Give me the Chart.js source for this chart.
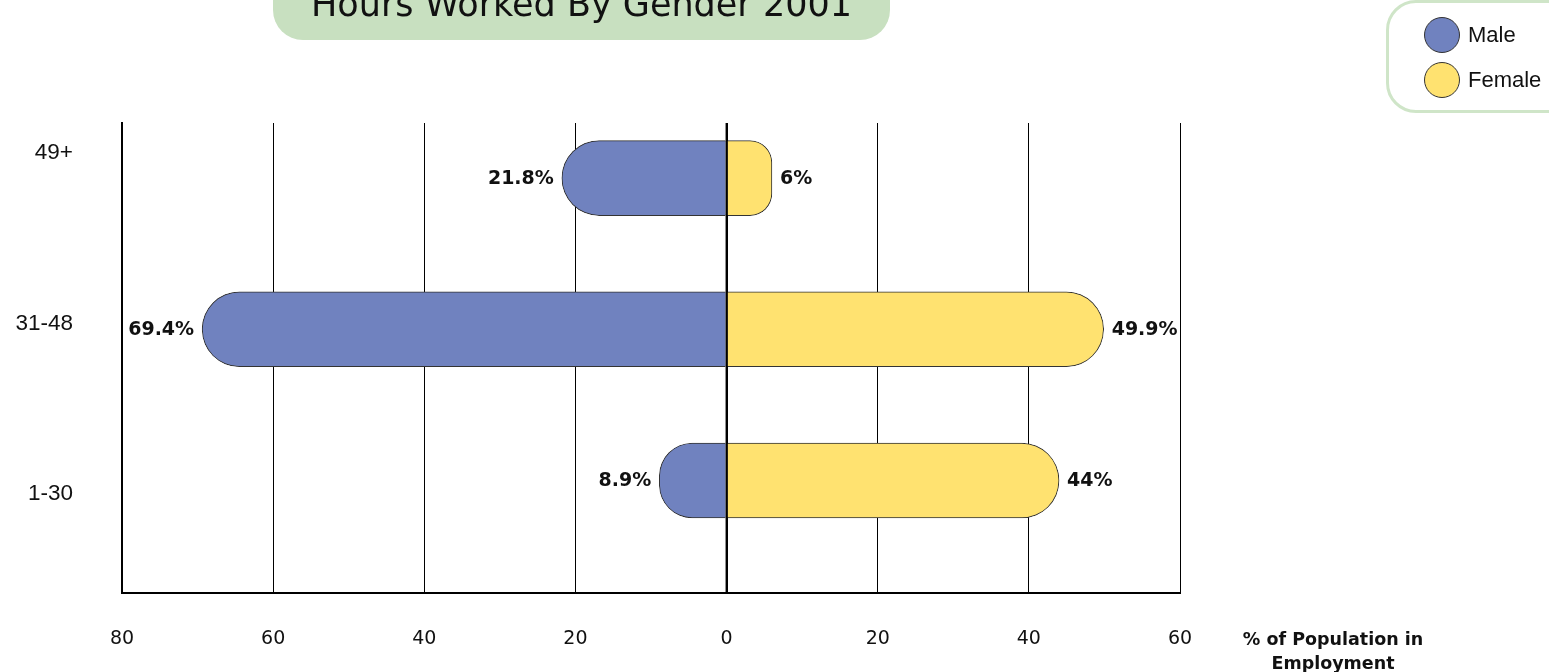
<!DOCTYPE html>
<html>
<head>
<meta charset="utf-8">
<script src="https://cdn.jsdelivr.net/npm/chart.js@4.4.1/dist/chart.umd.min.js"></script>
<style>
  html, body { margin: 0; padding: 0; background: #fff; }
  body { width: 1549px; height: 672px; position: relative; overflow: hidden; font-family: "DejaVu Sans", sans-serif; }
  #chart { position: absolute; left: 0; top: 0; }
  .title-box { position: absolute; left: 273px; top: -44px; width: 617px; height: 84px; background: #C8E0C0; border-radius: 30px; }
  .title-text { position: absolute; left: 273px; top: -13px; width: 617px; text-align: center; font-size: 35px; line-height: 35px; color: #111; }
  .legend { position: absolute; left: 1386px; top: 0; width: 220px; height: 113px; box-sizing: border-box; border: 3px solid #CFE5C8; border-radius: 30px; }
  .legend-item { position: absolute; left: 1424px; height: 36px; display: flex; align-items: center; font-family: "Liberation Sans", Arial, sans-serif; font-size: 22px; color: #111; }
  .legend-item span.dot { width: 36px; height: 36px; border-radius: 50%; border: 1px solid #333; box-sizing: border-box; margin-right: 8px; }
  .axis-title { position: absolute; left: 1233px; top: 627px; width: 200px; text-align: center; font-weight: bold; font-size: 17.5px; line-height: 24px; color: #111; }
</style>
</head>
<body>
<canvas id="chart" width="1549" height="672"></canvas>
<div class="title-box"></div>
<div class="title-text">Hours Worked By Gender 2001</div>
<div class="legend"></div>
<div class="legend-item" style="top:17px"><span class="dot" style="background:#7082BF"></span>Male</div>
<div class="legend-item" style="top:62px"><span class="dot" style="background:#FFE270"></span>Female</div>
<div class="axis-title">% of Population in<br>Employment</div>
<script>
// hours bands, top to bottom
const categories = ['49+', '31-48', '1-30'];
const maleValues = [21.8, 69.4, 8.9];
const femaleValues = [6, 49.9, 44];
const xMin = -80;
const xMax = 60;
const xStep = 20;

const maleColor = '#7082BF';
const femaleColor = '#FFE270';

// value labels at the bar ends, plus the zero line over the bars
const barLabels = {
  id: 'barLabels',
  afterDatasetsDraw(chart) {
    const { ctx, chartArea } = chart;
    const x0 = chart.scales.x.getPixelForValue(0);
    ctx.save();
    ctx.strokeStyle = '#000';
    ctx.lineWidth = 2;
    ctx.beginPath();
    ctx.moveTo(x0, chartArea.top);
    ctx.lineTo(x0, chartArea.bottom);
    ctx.stroke();

    ctx.font = 'bold 19px "DejaVu Sans"';
    ctx.textBaseline = 'middle';
    ctx.textAlign = 'left';
    chart.data.datasets.forEach((ds, di) => {
      const vals = di === 0 ? maleValues : femaleValues;
      chart.getDatasetMeta(di).data.forEach((bar, i) => {
        const text = vals[i] + '%';
        const w = ctx.measureText(text).width;
        const tx = di === 0 ? bar.x - 8 - w : bar.x + 8;
        ctx.fillStyle = '#fff';
        ctx.fillRect(tx - 2, bar.y - 16, w + 4, 32);
        ctx.fillStyle = '#111';
        ctx.fillText(text, tx, bar.y + 1);
      });
    });
    ctx.restore();
  }
};

new Chart(document.getElementById('chart').getContext('2d'), {
  type: 'bar',
  data: {
    datasets: [
      {
        label: 'Male',
        data: maleValues.map((v, i) => ({ x: -v, y: i })),
        backgroundColor: maleColor,
        borderColor: '#333',
        borderWidth: 1,
        borderRadius: 40,
        barThickness: 75,
      },
      {
        label: 'Female',
        data: femaleValues.map((v, i) => ({ x: v, y: i })),
        backgroundColor: femaleColor,
        borderColor: '#333',
        borderWidth: 1,
        borderRadius: 40,
        barThickness: 75,
      }
    ]
  },
  options: {
    indexAxis: 'y',
    responsive: false,
    animation: false,
    layout: { padding: { top: 123, right: 369, left: 0, bottom: 0 } },
    plugins: { legend: { display: false }, tooltip: { enabled: false } },
    scales: {
      x: {
        type: 'linear',
        stacked: true,
        min: xMin,
        max: xMax,
        ticks: {
          stepSize: xStep,
          padding: 35,
          color: '#111',
          font: { family: 'DejaVu Sans', size: 19 },
          callback: v => Math.abs(v),
        },
        grid: {
          color: '#000',
          lineWidth: c => (c.tick && c.tick.value === 0 ? 2 : 1),
          drawTicks: false,
        },
        border: { display: true, color: '#000', width: 2 },
        afterFit: s => { s.height = 79; },
      },
      // bar positions
      y: {
        type: 'linear',
        position: 'left',
        weight: 0,
        stacked: true,
        reverse: true,
        offset: false,
        min: -0.364,
        max: 2.744,
        ticks: { display: false },
        grid: { display: false, drawTicks: false, offset: false },
        border: { display: true, color: '#000', width: 2 },
        afterFit: s => { s.width = 0; },
      },
      // category names, spaced a little wider than the bars as in the original
      yLabels: {
        type: 'linear',
        position: 'left',
        weight: 1,
        reverse: true,
        offset: false,
        min: -0.176,
        max: 2.581,
        afterBuildTicks: s => { s.ticks = categories.map((c, i) => ({ value: i })); },
        ticks: {
          padding: 49,
          color: '#111',
          font: { family: 'Liberation Sans', size: 22.5 },
          callback: v => categories[v],
        },
        grid: { display: false, drawTicks: false },
        border: { display: false },
        afterFit: s => { s.width = 122; },
      }
    }
  },
  plugins: [barLabels]
});
</script>
</body>
</html>
